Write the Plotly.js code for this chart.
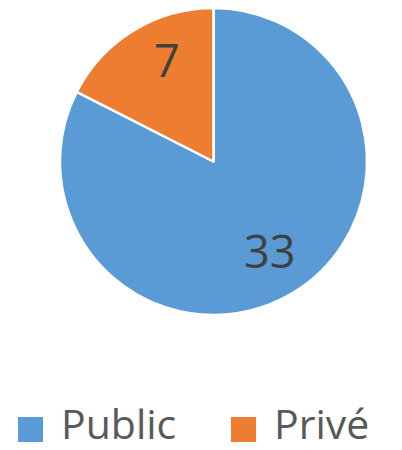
<!DOCTYPE html>
<html>
<head>
<meta charset="utf-8">
<script src="https://cdn.plot.ly/plotly-3.0.1.min.js"></script>
<style>html,body{margin:0;padding:0;background:#fff;}#chart{width:402px;height:450px;}</style>
</head>
<body>
<div id="chart"></div>
<script>
var labels = ["Public", "Privé"];
var values = [33, 7];
var colors = ["#5B9BD5", "#ED7D31"];

var W = 402, H = 450;
var cx = 213.5, cy = 161.5, R = 153.5;
var legendX = [18, 231];
var labelNudge = [[0, -3], [10, -10]];
var shapes = [], annotations = [];

// value labels placed along each slice's mid angle (clockwise from 12 o'clock)
var total = values.reduce(function (a, b) { return a + b; }, 0);
var acc = 0;
values.forEach(function (v, i) {
  var mid = (acc + v / 2) / total * 2 * Math.PI;
  acc += v;
  var px = cx + 0.7 * R * Math.sin(mid) + labelNudge[i][0];
  var py = cy - 0.7 * R * Math.cos(mid) + labelNudge[i][1];
  annotations.push({
    xref: "paper", yref: "paper",
    x: px / W, y: 1 - py / H,
    xanchor: "center", yanchor: "middle",
    text: String(v), showarrow: false,
    font: {family: "Open Sans, sans-serif", size: 45, color: "#404040"}
  });
});

labels.forEach(function (lab, i) {
  shapes.push({
    type: "rect", xref: "paper", yref: "paper",
    x0: legendX[i] / W, x1: (legendX[i] + 25) / W,
    y0: 1 - 442 / H, y1: 1 - 417 / H,
    fillcolor: colors[i], line: {width: 0}
  });
  annotations.push({
    xref: "paper", yref: "paper",
    x: (legendX[i] + 42) / W, y: 1 - 423 / H,
    xanchor: "left", yanchor: "middle",
    text: lab, showarrow: false, borderpad: 0,
    font: {family: "Open Sans, sans-serif", size: 41, color: "#595959"}
  });
});

var data = [{
  type: "pie",
  labels: labels,
  values: values,
  sort: false,
  direction: "clockwise",
  rotation: 0,
  marker: {colors: colors, line: {color: "#ffffff", width: 2.5}},
  textinfo: "none",
  hoverinfo: "label+value",
  domain: {x: [(cx - R) / W, (cx + R) / W], y: [1 - (cy + R) / H, 1 - (cy - R) / H]},
  showlegend: false
}];

var layout = {
  width: W, height: H,
  margin: {l: 0, r: 0, t: 0, b: 0},
  paper_bgcolor: "#ffffff",
  showlegend: false,
  shapes: shapes,
  annotations: annotations
};

Plotly.newPlot("chart", data, layout, {displayModeBar: false, staticPlot: true});
</script>
</body>
</html>
